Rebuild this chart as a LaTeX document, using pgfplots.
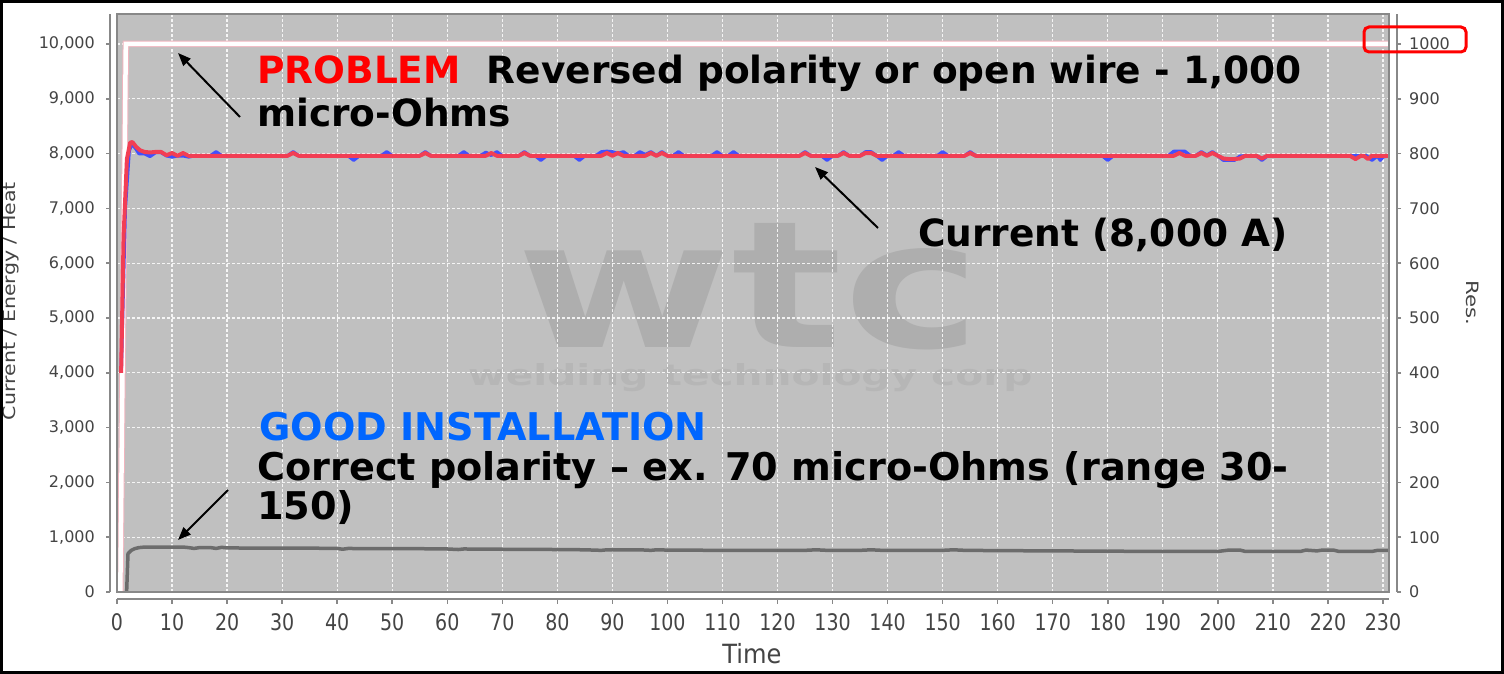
\documentclass[border=0pt]{standalone}
\usepackage{fontspec}
\setmainfont{DejaVu Sans}
\usepackage{pgfplots}
\pgfplotsset{compat=1.18}
\usetikzlibrary{arrows.meta}
\definecolor{plotbg}{RGB}{192,192,192}
\definecolor{axgray}{RGB}{136,136,136}
\definecolor{ticktext}{RGB}{68,68,68}
\definecolor{wmark}{RGB}{174,174,174}
\definecolor{wmarktwo}{RGB}{182,182,182}
\definecolor{curred}{RGB}{242,62,84}
\definecolor{curblue}{RGB}{64,80,255}
\definecolor{resgray}{RGB}{108,108,108}
\definecolor{pinkedge}{RGB}{240,180,190}
\definecolor{probred}{RGB}{255,0,0}
\definecolor{goodblue}{RGB}{0,102,255}

\begin{document}
\begin{tikzpicture}[x=1pt,y=1pt]
\useasboundingbox (0,0) rectangle (1504,674);
\fill[white] (0,0) rectangle (1504,674);
\fill[plotbg] (117,82) rectangle (1389,660);
% watermark
\node[anchor=base west, inner sep=0, text=wmark] at (516,326) {\resizebox{465pt}{124pt}{\bfseries wtc}};
\node[anchor=base west, inner sep=0, text=wmarktwo] at (468,288) {\resizebox{564pt}{22pt}{\bfseries welding technology corp}};

% resistance axis (right scale) with grid
\begin{axis}[
  at={(117pt,82pt)}, anchor=south west, scale only axis,
  width=1272pt, height=578pt,
  xmin=0, xmax=231.09, ymin=0, ymax=1054.7,
  axis line style={draw=none},
  xtick={0,10,...,230}, ytick={0,100,...,1000},
  xticklabels={}, yticklabels={},
  major tick length=0pt,
  grid=major,
  major grid style={draw=white, line width=1.2pt, dash pattern=on 3pt off 2pt, opacity=0.85},
]
\addplot[resgray, line width=3.5pt, line join=round] coordinates {
(1.75,0)(2.0,70)(2.6,76)(3.2,79)(4,81)(5,82)(8,82)(12,82)(13,81)(14,79.5)(15,81)(17,81)(18,79.5)(19,81.5)(20,80.5)
(25,80)(35,80)(40,79.5)(41,78)(42,79.5)(45,79)(55,79)(60,78.5)(62,77.5)(63,78.5)(70,78)(80,77.5)(85,77)(88,76)(89,77)
(95,77)(97,76)(98,77)(100,76.5)(110,76)(125,76)(127,77)(129,76)(135,76)(137,77)(139,76)(150,76)(152,77)(154,76)
(160,75.5)(170,75)(180,74.5)(190,74)(200,74)(202,76.5)(204,76.5)(205,74)(215,74)(216,76.5)(218,75)(219,76.5)(221,76.5)
(222,74)(228,74)(229,76)(231,76)
};
\addplot[pinkedge, line width=6.5pt] coordinates {(0.6,0)(1.6,1000)(232,1000)};
\addplot[white, line width=4.5pt] coordinates {(0.6,0)(1.6,1000)(232,1000)};
\end{axis}

% current axis (left scale)
\begin{axis}[
  at={(117pt,82pt)}, anchor=south west, scale only axis,
  width=1272pt, height=578pt,
  xmin=0, xmax=231.09, ymin=0, ymax=10547,
  axis line style={draw=none},
  xtick=\empty, ytick=\empty,
]
\addplot[curblue, line width=3.5pt, line join=round] coordinates {
(0.75,4000)(1.5,7000)(2.2,8050)(2.7,8180)(3.5,8080)(4,8000)(5,8000)(6,7950)(7,8020)(8,8020)(9,7960)(10,7940)(11,7960)(12,7960)(13,7940)(14,7960)
(17,7960)(18,8030)(19,7960)
(31,7960)(32,8030)(33,7960)
(42,7960)(43,7880)(44,7960)
(48,7960)(49,8030)(50,7960)
(55,7960)(56,8030)(57,7960)
(62,7960)(63,8030)(64,7960)
(66,7960)(67,8020)(68,7970)(69,8030)(70,7960)
(73,7960)(74,8030)(75,7960)
(76,7960)(77,7880)(78,7960)
(83,7960)(84,7880)(85,7960)
(87,7960)(88,8030)(89,8040)(90,8030)(91,8000)(92,8030)(93,7960)
(94,7960)(95,8030)(96,7980)(97,8030)(98,7960)(99,8030)(100,7960)
(101,7960)(102,8030)(103,7960)
(108,7960)(109,8030)(110,7960)
(111,7960)(112,8030)(113,7960)
(124,7960)(125,8030)(126,7960)
(128,7960)(129,7880)(130,7960)
(131,7960)(132,8030)(133,7960)
(135,7960)(136,8030)(137,8030)(138,7960)(139,7880)(140,7960)
(141,7960)(142,8030)(143,7960)
(149,7960)(150,8030)(151,7960)
(154,7960)(155,8030)(156,7960)
(179,7960)(180,7880)(181,7960)
(191,7960)(192,8040)(193,8040)(194,8040)(195,7960)
(196,7960)(197,8030)(198,7970)(199,8030)(200,7960)
(201,7880)(202,7880)(203,7880)(204,7950)(205,7960)
(207,7960)(208,7880)(209,7960)
(224,7960)(225,7960)(226,7960)(227,7960)(228,7880)(229,7960)(229.5,7880)(230,7940)(231,7960)
};
\addplot[curred, line width=4pt, line join=round] coordinates {
(0.75,4000)(1.2,6500)(1.8,7900)(2.4,8200)(2.8,8210)(3.5,8120)(4.2,8060)(5,8030)(6,8020)(7,8030)(8,8030)(9,7970)(10,8010)(11,7960)(12,8010)(13,7960)
(31,7960)(32,8010)(33,7960)
(55,7960)(56,8010)(57,7960)
(67,7960)(68,8010)(69,7960)
(73,7960)(74,8010)(75,7960)
(88,7960)(89,8010)(90,7960)(91,8010)(92,7960)
(96,7960)(97,8010)(98,7960)(99,8010)(100,7960)
(124,7960)(125,8010)(126,7960)
(131,7960)(132,8010)(133,7960)
(135,7960)(136,8010)(137,8010)(138,7960)
(154,7960)(155,8010)(156,7960)
(192,7960)(193,8010)(194,7960)
(196,7960)(197,8010)(198,7960)(199,8010)(200,7960)
(201,7910)(202,7900)(203,7900)(204,7910)(205,7960)
(207,7960)(208,7910)(209,7960)
(224,7960)(225,7900)(226,7960)(226.5,7960)(227.3,7900)(228,7960)(231,7960)
};
\end{axis}

% plot outline
\draw[axgray, line width=2pt] (117,82) rectangle (1389,660);

% bottom axis
\begin{axis}[
  at={(117pt,75pt)}, anchor=south west, scale only axis,
  width=1272pt, height=10pt,
  xmin=0, xmax=231.09, ymin=0, ymax=1,
  axis x line*=bottom, axis y line=none,
  axis line style={-, draw=axgray, line width=2pt},
  every outer x axis line/.append style={-},
  xtick={0,10,...,230},
  tick align=outside, major tick length=5pt,
  tick style={draw=axgray, line width=1.5pt},
  /pgf/number format/assume math mode=true,
  xticklabel={\scalebox{1}[1.2]{\pgfmathprintnumber{\tick}}},
  xticklabel style={font=\fontsize{19}{19}\selectfont, text=ticktext, inner sep=0pt, anchor=north, yshift=-9pt},
]
\addplot[draw=none] coordinates {(0,0)};
\end{axis}

% left axis
\begin{axis}[
  at={(110pt,82pt)}, anchor=south west, scale only axis,
  width=10pt, height=578pt,
  xmin=0, xmax=1, ymin=0, ymax=10547,
  axis y line*=left, axis x line=none,
  axis line style={-, draw=axgray, line width=2pt},
  every outer y axis line/.append style={-},
  ytick={0,1000,...,10000}, scaled y ticks=false,
  tick align=outside, major tick length=4pt,
  tick style={draw=axgray, line width=1.5pt},
  /pgf/number format/.cd, assume math mode=true, 1000 sep={,}, /pgfplots/.cd,
  yticklabel style={font=\fontsize{16}{16}\selectfont, text=ticktext, inner sep=0pt, anchor=east, xshift=-11pt},
]
\addplot[draw=none] coordinates {(0,0)};
\end{axis}

% right axis
\begin{axis}[
  at={(1387pt,82pt)}, anchor=south west, scale only axis,
  width=10pt, height=578pt,
  xmin=0, xmax=1, ymin=0, ymax=1054.7,
  axis y line*=right, axis x line=none,
  axis line style={-, draw=axgray, line width=2pt},
  every outer y axis line/.append style={-},
  ytick={0,100,...,1000}, scaled y ticks=false,
  tick align=outside, major tick length=4pt,
  tick style={draw=axgray, line width=1.5pt},
  /pgf/number format/.cd, assume math mode=true, 1000 sep={}, /pgfplots/.cd,
  yticklabel style={font=\fontsize{16}{16}\selectfont, text=ticktext, inner sep=0pt, anchor=west, xshift=8pt},
]
\addplot[draw=none] coordinates {(0,0)};
\end{axis}

% axis titles
\node[anchor=base, inner sep=0, rotate=90, text=ticktext] at (15,373) {\scalebox{1.21}[1]{\fontsize{17}{17}\selectfont Current / Energy / Heat}};
\node[anchor=base, inner sep=0, rotate=-90, text=ticktext] at (1466,371) {\scalebox{1.25}[1]{\fontsize{17}{17}\selectfont Res.}};
\node[anchor=base, inner sep=0, text=ticktext] at (752,10) {\scalebox{1.05}[1.15]{\fontsize{23}{23}\selectfont Time}};

% annotations
\begin{scope}[every node/.style={anchor=base west, inner sep=0, font=\fontsize{37.5}{37.5}\selectfont\bfseries}]
\node at (257,590) {\textcolor{probred}{PROBLEM}\ \ Reversed polarity or open wire - 1,000};
\node at (257,547) {micro-Ohms};
\node at (918,427) {Current (8,000 A)};
\end{scope}
\begin{scope}[every node/.style={anchor=base west, inner sep=0, font=\fontsize{38.2}{38.2}\selectfont\bfseries}]
\node at (259,233) {\textcolor{goodblue}{GOOD INSTALLATION}};
\node at (257,193) {Correct polarity – ex. 70 micro-Ohms (range 30-};
\node at (257,154) {150)};
\end{scope}
\draw[black, line width=2pt, -{Triangle[length=13pt,width=10pt]}] (240,557) -- (178,621);
\draw[black, line width=2pt, -{Triangle[length=13pt,width=10pt]}] (878,446) -- (815,507);
\draw[black, line width=2pt, -{Triangle[length=13pt,width=10pt]}] (228,184) -- (178,134);

% red highlight box
\draw[probred, line width=3pt, rounded corners=5pt] (1364,622) rectangle (1466,647);

% outer frame
\draw[black, line width=3pt] (1.5,1.5) rectangle (1502.5,672.5);
\end{tikzpicture}
\end{document}
